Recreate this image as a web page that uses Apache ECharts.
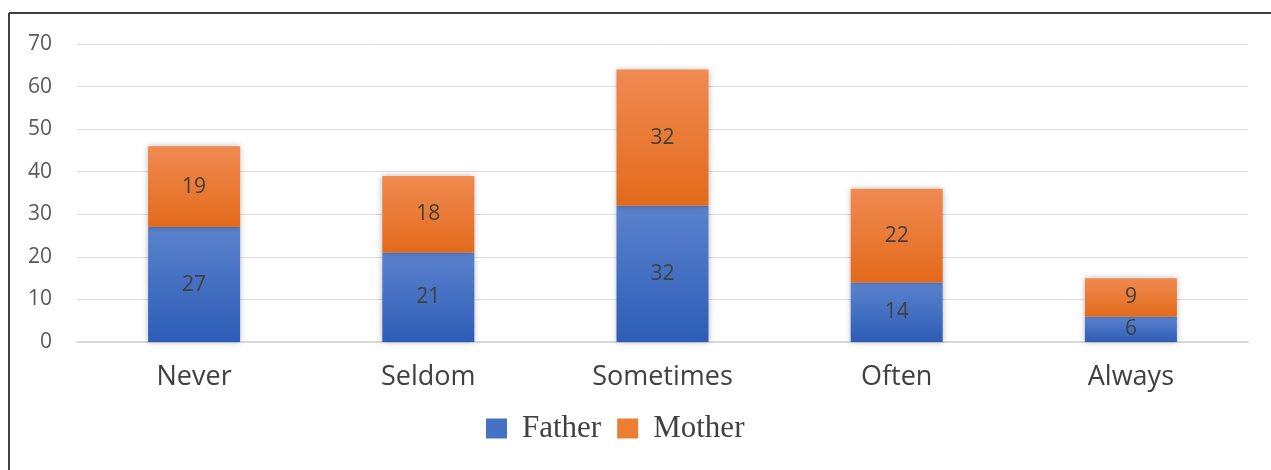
<!DOCTYPE html>
<html>
<head>
<meta charset="utf-8">
<script src="https://cdn.jsdelivr.net/npm/echarts@6/dist/echarts.min.js"></script>
<style>
  html, body { margin: 0; padding: 0; background: #fff; }
  #chart { width: 1271px; height: 470px; }
</style>
</head>
<body>
<div id="chart"></div>
<script>
const categories = ['Never', 'Seldom', 'Sometimes', 'Often', 'Always'];
const fatherValues = [27, 21, 32, 14, 6];
const motherValues = [19, 18, 32, 22, 9];
const yTicks = { min: 0, max: 70, interval: 10 };

const chart = echarts.init(document.getElementById('chart'));

function gradient(top, bottom) {
  return new echarts.graphic.LinearGradient(0, 0, 0, 1, [
    { offset: 0, color: top },
    { offset: 1, color: bottom }
  ]);
}

const labelStyle = {
  show: true,
  position: 'inside',
  color: '#404040',
  fontSize: 21,
  fontFamily: 'Open Sans'
};

const shadow = {
  shadowBlur: 6,
  shadowColor: 'rgba(0,0,0,0.28)',
  shadowOffsetX: 0,
  shadowOffsetY: 0
};

chart.setOption({
  animation: false,
  backgroundColor: '#fff',
  grid: { left: 77, right: 23, top: 44, bottom: 128 },
  legend: {
    bottom: 26,
    left: 486,
    padding: 0,
    itemWidth: 21,
    itemHeight: 20,
    itemGap: 16,
    icon: 'rect',
    textStyle: { fontFamily: 'Liberation Serif', fontSize: 31, color: '#404040', padding: [0, 0, 0, 10] },
    data: [
      { name: 'Father', itemStyle: { color: '#4472c4', shadowBlur: 0 } },
      { name: 'Mother', itemStyle: { color: '#ed7d31', shadowBlur: 0 } }
    ]
  },
  xAxis: {
    type: 'category',
    data: categories,
    axisLine: { lineStyle: { color: '#d9d9d9', width: 2 } },
    axisTick: { show: false },
    axisLabel: { fontFamily: 'Open Sans', fontSize: 27, color: '#404040', margin: 22 }
  },
  yAxis: {
    type: 'value',
    min: yTicks.min,
    max: yTicks.max,
    interval: yTicks.interval,
    axisLine: { show: false },
    axisTick: { show: false },
    splitLine: { lineStyle: { color: '#dedede', width: 1 } },
    axisLabel: { fontFamily: 'Open Sans', fontSize: 21, color: '#595959', margin: 25 }
  },
  series: [
    {
      name: 'Father',
      type: 'bar',
      stack: 'total',
      barWidth: 92,
      data: fatherValues,
      color: '#4472c4',
      itemStyle: Object.assign({ color: gradient('#5b82cd', '#2d5db7') }, shadow),
      label: labelStyle
    },
    {
      name: 'Mother',
      type: 'bar',
      stack: 'total',
      barWidth: 92,
      data: motherValues,
      color: '#ed7d31',
      itemStyle: Object.assign({ color: gradient('#f08a51', '#e36a1b') }, shadow),
      label: labelStyle
    }
  ],
  graphic: [
    { type: 'line', shape: { x1: 9, y1: 13, x2: 1271, y2: 13 }, style: { stroke: '#404040', lineWidth: 2 } },
    { type: 'line', shape: { x1: 9, y1: 13, x2: 9, y2: 470 }, style: { stroke: '#404040', lineWidth: 2 } }
  ]
});
</script>
</body>
</html>
